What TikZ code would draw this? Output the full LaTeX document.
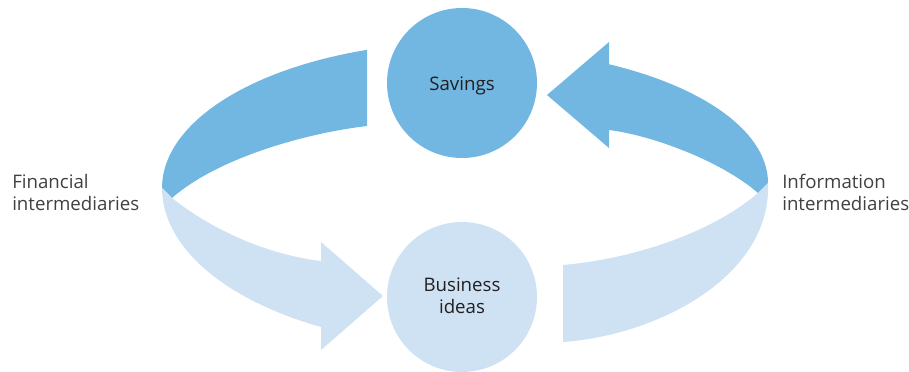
\documentclass[tikz,border=0pt]{standalone}
\usepackage{fontspec}
\setmainfont{Open Sans}
\definecolor{flowdark}{RGB}{114,183,226}
\definecolor{flowlight}{RGB}{207,226,244}
\definecolor{inktext}{RGB}{35,31,32}
\definecolor{sidetext}{RGB}{64,64,64}
\begin{document}
\begin{tikzpicture}[x=0.75pt,y=-0.75pt,
  hub/.style={circle,inner sep=0pt,minimum size=112.5pt},
  hubtext/.style={anchor=base,inner sep=0pt,text=inktext,font=\fontsize{14}{16.5}\selectfont},
  sidelabel/.style={anchor=base west,inner sep=0pt,text=sidetext,font=\fontsize{14}{16.5}\selectfont}]
\useasboundingbox (0,0) rectangle (909,371);

% upper-left band: dark arc running from Savings down to the left side
\fill[flowdark] (367,50)
  -- plot[domain=251.1:180,samples=50] ({465+303*cos(\x)},{188+146*sin(\x)})
  -- (172,198) .. controls (215,160) and (300,134) .. (367,126) -- cycle;

% lower-left band: light arc ending in an arrowhead pointing at Business ideas
\fill[flowlight] (162,188) -- (172,198)
  .. controls (215,232) and (270,255) .. (321,261)
  -- (321,242) -- (383,296) -- (321,350) -- (321,327)
  -- plot[domain=118.4:180,samples=50] ({465+303*cos(\x)},{188+158*sin(\x)})
  -- cycle;

% upper-right band: dark arc ending in an arrowhead pointing at Savings
\fill[flowdark] (547,95) -- (609,42) -- (609,64)
  -- plot[domain=-61.6:0,samples=50] ({465+303*cos(\x)},{183+135*sin(\x)})
  -- (758,193) .. controls (720,160) and (650,135) .. (609,130)
  -- (609,148) -- cycle;

% lower-right band: light arc from Business ideas up to the right side
\fill[flowlight] (768,183) .. controls (772,275) and (660,335) .. (563,342)
  -- (563,265) .. controls (640,258) and (715,230) .. (758,193) -- cycle;

% the two hubs
\node[hub,fill=flowdark] (savings) at (462,83) {};
\node[hub,fill=flowlight] (business) at (462,297) {};
\node[hubtext] (savingsText) at (462,90.7) {Savings};
\node[hubtext] (businessTextA) at (462,291) {Business};
\node[hubtext] (businessTextB) at (462,313) {ideas};

% side labels
\node[sidelabel] (finA) at (12,188) {Financial};
\node[sidelabel] (finB) at (12,210) {intermediaries};
\node[sidelabel] (infA) at (782,188) {Information};
\node[sidelabel] (infB) at (782,210) {intermediaries};
\end{tikzpicture}
\end{document}
